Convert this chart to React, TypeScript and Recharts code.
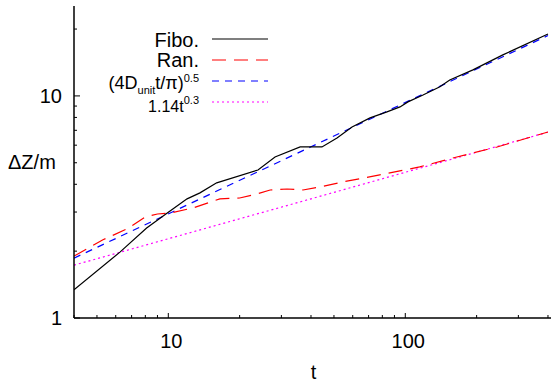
import React from 'react'
import { LineChart, Line, XAxis, YAxis } from 'recharts'

// Fibonacci-lattice run (black, solid)
const fiboT = [4, 6.25, 8.1, 9.9, 12.0, 13.6, 16.0, 23.9, 28.2, 36, 44.5, 51.5, 59.6, 71, 83.7, 95, 102.6, 118.8, 140, 154, 193, 258, 400]
const fiboZ = [1.34, 1.98, 2.54, 2.97, 3.44, 3.66, 4.06, 4.64, 5.31, 5.89, 5.89, 6.47, 7.25, 7.96, 8.47, 8.92, 9.4, 10.1, 11.0, 11.8, 13.1, 15.3, 19.0]

// random run (red, long dashes)
const ranT = [4, 5.3, 6.7, 8.0, 9.0, 10.2, 12.7, 16.5, 20, 23.7, 26.9, 31.7, 37, 43.6, 54.6, 78, 115, 165, 244, 400]
const ranZ = [1.9, 2.25, 2.52, 2.85, 2.94, 2.97, 3.13, 3.44, 3.47, 3.62, 3.77, 3.81, 3.77, 3.89, 4.1, 4.41, 4.79, 5.31, 5.89, 6.88]

// reference power laws
const diffT = [4, 40, 400]
const diffZ = [1.86, 5.9, 18.7]
const powT = [4, 40, 400]
const powZ = [1.73, 3.44, 6.87]

const xTicks = [4, 5, 6, 7, 8, 9, 10, 20, 30, 40, 50, 60, 70, 80, 90, 100, 200, 300, 400]
const xLabels = [10, 100]
const yTicks = [1, 2, 3, 4, 5, 6, 7, 8, 9, 10, 20]
const yLabels = [1, 10]

const FONT = '"Liberation Sans", Arial, Helvetica, sans-serif'

const toRows = (t: number[], z: number[]) => t.map((v, i) => ({ t: v, z: z[i] }))
const fibo = toRows(fiboT, fiboZ)
const ran = toRows(ranT, ranZ)
const diff = toRows(diffT, diffZ)
const pow = toRows(powT, powZ)

function BottomTick({ x, y, payload }: any) {
  const major = xLabels.includes(payload.value)
  return (
    <g>
      <line x1={x} x2={x} y1={y} y2={y - (major ? 5 : 3)} stroke="#000" strokeWidth={1} />
      {major && (
        <text x={x + 3} y={y + 30} textAnchor="middle" fontSize={20} fontFamily={FONT} fill="#000">
          {payload.value}
        </text>
      )}
    </g>
  )
}

function TopTick({ x, y, payload }: any) {
  const major = xLabels.includes(payload.value)
  return <line x1={x} x2={x} y1={y} y2={y + (major ? 5 : 3)} stroke="#000" strokeWidth={1} />
}

function LeftTick({ x, y, payload }: any) {
  const major = yLabels.includes(payload.value)
  return (
    <g>
      <line x1={x} x2={x + (major ? 6 : 3)} y1={y} y2={y} stroke="#000" strokeWidth={1} />
      {major && (
        <text x={x - 12} y={y + 7} textAnchor="end" fontSize={20} fontFamily={FONT} fill="#000">
          {payload.value}
        </text>
      )}
    </g>
  )
}

function RightTick({ x, y, payload }: any) {
  const major = yLabels.includes(payload.value)
  return <line x1={x} x2={x - (major ? 6 : 4)} y1={y} y2={y} stroke="#000" strokeWidth={1} />
}

function Key() {
  const txt = { fontFamily: FONT, fill: '#000', textAnchor: 'end' as const }
  return (
    <svg width={551} height={386} style={{ position: 'absolute', left: 0, top: 0, pointerEvents: 'none' }}>
      <text x={199} y={47} fontSize={20} {...txt}>Fibo.</text>
      <line x1={212} x2={268} y1={39} y2={39} stroke="#000" strokeWidth={1.2} />
      <text x={199} y={67} fontSize={20} {...txt}>Ran.</text>
      <line x1={212} x2={268} y1={60} y2={60} stroke="#ff0000" strokeWidth={1.2} strokeDasharray="14 8" />
      <text x={199} y={89} fontSize={18} {...txt}>
        (4D<tspan fontSize={11} dy={5}>unit</tspan>
        <tspan dy={-5}>t/π)</tspan>
        <tspan fontSize={11} dy={-7.5}>0.5</tspan>
      </text>
      <line x1={212} x2={268} y1={81} y2={81} stroke="#0000ff" strokeWidth={1.2} strokeDasharray="7 6" />
      <text x={199} y={112} fontSize={16} {...txt}>
        1.14t<tspan fontSize={11} dy={-8}>0.3</tspan>
      </text>
      <line x1={212} x2={268} y1={102} y2={102} stroke="#ff00ff" strokeWidth={1.2} strokeDasharray="2 3" />
    </svg>
  )
}

export default function App() {
  return (
    <div style={{ position: 'absolute', left: 0, top: 0, width: 551, height: 386, overflow: 'hidden', background: '#fff' }}>
      <LineChart width={560} height={386} margin={{ top: 6, right: 7, bottom: 0, left: 0 }}>
        <XAxis
          dataKey="t"
          type="number"
          scale="log"
          domain={[4, 420]}
          allowDataOverflow
          ticks={xTicks}
          interval={0}
          height={68}
          tickSize={0}
          tickMargin={0}
          tickLine={false}
          axisLine={{ stroke: '#000', strokeWidth: 1.5 }}
          tick={(p: any) => <BottomTick {...p} />}
          label={{ value: 't', position: 'insideBottom', offset: 7, fontSize: 20, fontFamily: FONT, fill: '#000' }}
        />
        <XAxis
          xAxisId="top"
          orientation="top"
          dataKey="t"
          type="number"
          scale="log"
          domain={[4, 420]}
          allowDataOverflow
          ticks={xTicks}
          interval={0}
          height={0}
          tickSize={0}
          tickMargin={0}
          tickLine={false}
          axisLine={{ stroke: '#000', strokeWidth: 1.5 }}
          tick={(p: any) => <TopTick {...p} />}
        />
        <YAxis
          type="number"
          scale="log"
          domain={[1, 25.4]}
          allowDataOverflow
          ticks={yTicks}
          interval={0}
          width={74}
          tickSize={0}
          tickMargin={0}
          tickLine={false}
          axisLine={{ stroke: '#000', strokeWidth: 1.5 }}
          tick={(p: any) => <LeftTick {...p} />}
          label={{ value: 'ΔZ/m', position: 'insideLeft', offset: 8, fontSize: 20, fontFamily: FONT, fill: '#000' }}
        />
        <YAxis
          yAxisId="right"
          orientation="right"
          type="number"
          scale="log"
          domain={[1, 25.4]}
          allowDataOverflow
          ticks={yTicks}
          interval={0}
          width={0}
          tickSize={0}
          tickMargin={0}
          tickLine={false}
          axisLine={{ stroke: '#000', strokeWidth: 1.5 }}
          tick={(p: any) => <RightTick {...p} />}
        />
        <Line data={pow} dataKey="z" type="linear" stroke="#ff00ff" strokeWidth={1.2} strokeDasharray="2 3" dot={false} isAnimationActive={false} />
        <Line data={diff} dataKey="z" type="linear" stroke="#0000ff" strokeWidth={1.2} strokeDasharray="7 6" dot={false} isAnimationActive={false} />
        <Line data={ran} dataKey="z" type="linear" stroke="#ff0000" strokeWidth={1.2} strokeDasharray="14 8" dot={false} isAnimationActive={false} />
        <Line data={fibo} dataKey="z" type="linear" stroke="#000" strokeWidth={1.2} dot={false} isAnimationActive={false} />
      </LineChart>
      <Key />
    </div>
  )
}
